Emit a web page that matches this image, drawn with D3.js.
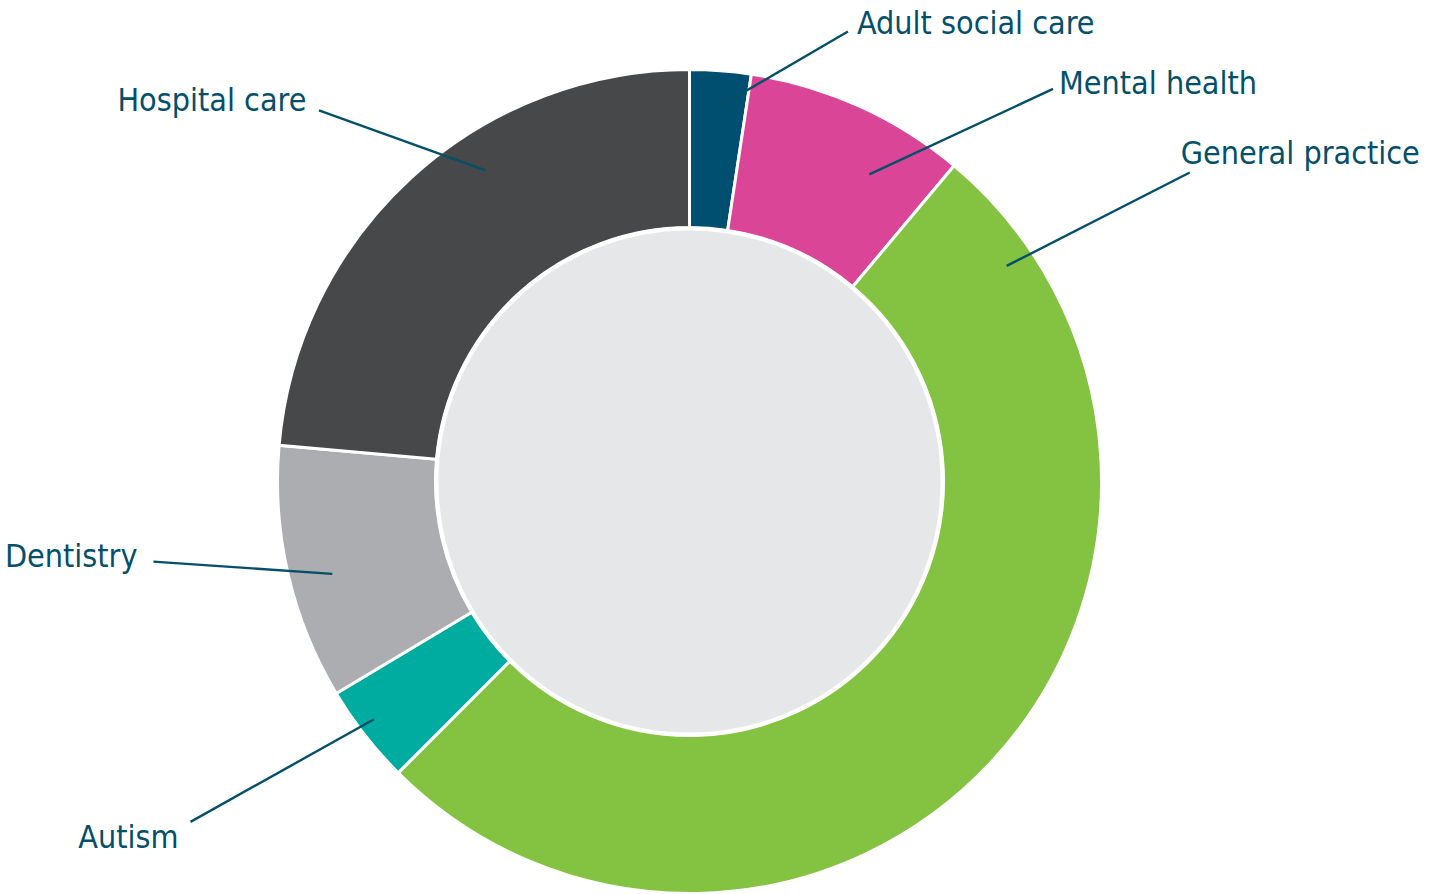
<!DOCTYPE html>
<html>
<head>
<meta charset="utf-8">
<script src="https://cdn.jsdelivr.net/npm/d3@7"></script>
<style>
  html, body { margin: 0; padding: 0; background: #ffffff; }
  svg { display: block; }
  .lbl { font-family: "DejaVu Sans Condensed", "DejaVu Sans", sans-serif; font-stretch: condensed; font-size: 32px; fill: #044f69; }
</style>
</head>
<body>
<svg id="chart" width="1438" height="894"></svg>
<script>
// ---- data ----
const categories = ["Adult social care", "Mental health", "General practice", "Autism", "Dentistry", "Hospital care"];
const values = [2.4, 8.7, 51.4, 3.9, 10.0, 23.6];
const colors = ["#004f71", "#db4598", "#84c341", "#00ac9f", "#acadb0", "#474849"];

// ---- label layout (polar: angle in degrees clockwise from top, radius in px) ----
const labelInner = [[4.5, 376], [30.35, 356], [55.8, 383.5], [233.0, 395], [255.5, 369], [326.7, 372.6]];
const labelOuter = [[19.4, 477], [42.8, 535], [58.3, 588], [235.7, 604], [261.5, 542], [315.05, 524.5]];
const labelText  = [[9, 2, "start"], [6, 5, "start"], [-9, -9, "start"], [-12, 26, "end"], [-16, 5, "end"], [-12.6, 0.7, "end"]];

const W = 1438, H = 894;
const cx = 689.5, cy = 481.5;
const rOuter = 412, rInner = 254;

const svg = d3.select("#chart");
const g = svg.append("g").attr("transform", `translate(${cx},${cy})`);

const data = categories.map((c, i) => ({ name: c, value: values[i], color: colors[i] }));

const pie = d3.pie().value(d => d.value).sort(null);
const arc = d3.arc().innerRadius(rInner).outerRadius(rOuter);

g.selectAll("path.slice")
  .data(pie(data))
  .join("path")
  .attr("class", "slice")
  .attr("d", arc)
  .attr("fill", d => d.data.color)
  .attr("stroke", "#ffffff")
  .attr("stroke-width", 3)
  .attr("stroke-linejoin", "miter");

g.append("circle")
  .attr("r", rInner - 1)
  .attr("fill", "#e6e7e8")
  .attr("stroke", "#ffffff")
  .attr("stroke-width", 4);

const polar = ([a, r]) => {
  const t = a * Math.PI / 180;
  return [r * Math.sin(t), -r * Math.cos(t)];
};

const lab = g.append("g");
data.forEach((d, i) => {
  const p1 = polar(labelInner[i]);
  const p2 = polar(labelOuter[i]);
  lab.append("line")
    .attr("x1", p1[0]).attr("y1", p1[1])
    .attr("x2", p2[0]).attr("y2", p2[1])
    .attr("stroke", "#044f69")
    .attr("stroke-width", 2.4);
  lab.append("text")
    .attr("class", "lbl")
    .attr("x", p2[0] + labelText[i][0])
    .attr("y", p2[1] + labelText[i][1])
    .attr("text-anchor", labelText[i][2])
    .text(d.name);
});
</script>
</body>
</html>
